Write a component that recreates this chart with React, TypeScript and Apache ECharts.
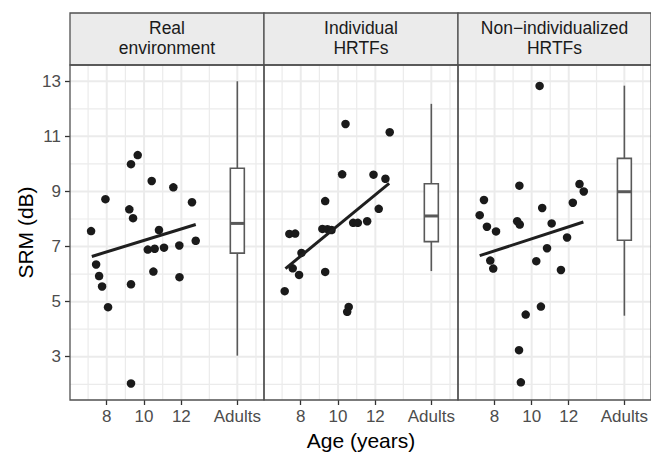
import React, { useEffect, useRef } from "react";
import * as echarts from "echarts";

// ---- data ----
const panelTitles = ["Real\nenvironment", "Individual\nHRTFs", "Non\u2212individualized\nHRTFs"];

const realX = [9.66, 9.30, 10.41, 11.57, 7.93, 12.57, 9.21, 9.41, 7.16, 10.80, 12.77, 10.20, 10.57, 11.07, 11.89, 7.43, 7.59, 10.50, 7.75, 9.30, 11.90, 8.07, 9.30];
const realY = [10.32, 9.99, 9.38, 9.15, 8.72, 8.61, 8.35, 8.03, 7.56, 7.60, 7.21, 6.89, 6.92, 6.96, 7.04, 6.35, 5.93, 6.09, 5.55, 5.63, 5.89, 4.80, 2.03];

const indivX = [10.40, 12.77, 10.22, 11.90, 12.54, 9.31, 12.18, 10.81, 11.06, 11.56, 9.16, 9.43, 9.65, 7.39, 7.70, 8.04, 7.57, 7.91, 9.31, 7.14, 10.57, 10.49];
const indivY = [11.45, 11.15, 9.62, 9.61, 9.46, 8.65, 8.37, 7.86, 7.86, 7.92, 7.64, 7.63, 7.60, 7.46, 7.47, 6.77, 6.21, 5.97, 6.08, 5.38, 4.81, 4.63];

const nonX = [10.43, 9.34, 12.58, 12.81, 7.43, 12.22, 10.57, 7.20, 9.22, 9.36, 11.08, 7.59, 8.08, 11.91, 10.83, 7.77, 7.93, 10.25, 11.58, 10.50, 9.68, 9.32, 9.42];
const nonY = [12.83, 9.21, 9.27, 9.00, 8.69, 8.59, 8.40, 8.14, 7.92, 7.80, 7.84, 7.72, 7.55, 7.33, 6.94, 6.49, 6.20, 6.47, 6.15, 4.82, 4.53, 3.24, 2.07];

const realFitX = [7.20, 12.77];
const realFitY = [6.64, 7.80];
const indivFitX = [7.18, 12.74];
const indivFitY = [6.20, 9.29];
const nonFitX = [7.20, 12.79];
const nonFitY = [6.67, 7.89];

// adults boxplot stats: [lower whisker, Q1, median, Q3, upper whisker]
const adultsPos = 15;
const realBox = [3.04, 6.76, 7.84, 9.84, 13.0];
const indivBox = [6.11, 7.18, 8.11, 9.28, 12.18];
const nonBox = [4.49, 7.23, 8.99, 10.2, 12.84];

const xTicks = [8, 10, 12, 15];
const xMinor = [7, 9, 11, 13.5, 16];
const yTicks = [3, 5, 7, 9, 11, 13];
const yMinor = [2, 4, 6, 8, 10, 12];

// ---- layout ----
const X_MIN = 6.03;
const X_MAX = 16.43;
const Y_MIN = 1.43;
const Y_MAX = 13.59;
const PANEL_TOP = 65;
const PANEL_H = 335;
const STRIP_TOP = 13;
const panelLefts = [70, 264, 458];
const panelWidths = [194, 194, 193];
const FONT = '"Liberation Sans", Arial, Helvetica, sans-serif';
const BORDER = "#505050";

const pointsSets = [
  [realX, realY],
  [indivX, indivY],
  [nonX, nonY],
];
const fitSets = [
  [realFitX, realFitY],
  [indivFitX, indivFitY],
  [nonFitX, nonFitY],
];
const boxSets = [realBox, indivBox, nonBox];

export default function App() {
  const ref = useRef<HTMLDivElement>(null);
  useEffect(() => {
    if (!ref.current) return;
    const chart = echarts.init(ref.current, null, { renderer: "svg" });

    const grids = panelLefts.map((l, i) => ({
      left: l,
      top: PANEL_TOP,
      width: panelWidths[i],
      height: PANEL_H,
      show: false,
    }));

    const xAxes = panelLefts.map((_, i) => ({
      type: "value",
      gridIndex: i,
      min: X_MIN,
      max: X_MAX,
      axisLine: { show: false },
      splitLine: { show: false },
      axisTick: {
        show: true,
        customValues: xTicks,
        length: 5,
        lineStyle: { color: "#333333", width: 1.3 },
      },
      axisLabel: {
        customValues: xTicks,
        formatter: (v: number) => (v === adultsPos ? "Adults" : String(v)),
        fontFamily: FONT,
        fontSize: 17,
        color: "#4d4d4d",
        margin: 8,
      },
    }));

    const yAxes = panelLefts.map((_, i) => ({
      type: "value",
      gridIndex: i,
      min: Y_MIN,
      max: Y_MAX,
      axisLine: { show: false },
      splitLine: { show: false },
      axisTick: {
        show: i === 0,
        customValues: yTicks,
        length: 5,
        lineStyle: { color: "#333333", width: 1.3 },
      },
      axisLabel: {
        show: i === 0,
        customValues: yTicks,
        fontFamily: FONT,
        fontSize: 17,
        color: "#4d4d4d",
        margin: 9,
      },
    }));

    const gridLineData: number[][] = [];
    xTicks.forEach((v) => gridLineData.push([0, v, 1]));
    xMinor.forEach((v) => gridLineData.push([0, v, 0]));
    yTicks.forEach((v) => gridLineData.push([1, v, 1]));
    yMinor.forEach((v) => gridLineData.push([1, v, 0]));

    const series: any[] = [];
    panelLefts.forEach((_, i) => {
      series.push({
        type: "custom",
        xAxisIndex: i,
        yAxisIndex: i,
        z: 1,
        silent: true,
        data: gridLineData,
        renderItem: (params: any, api: any) => {
          const cs = params.coordSys;
          const kind = api.value(0);
          const v = api.value(1);
          const major = api.value(2) === 1;
          const style = { stroke: "#ebebeb", lineWidth: major ? 2 : 1.2 };
          if (kind === 0) {
            const x = api.coord([v, Y_MIN])[0];
            return { type: "line", shape: { x1: x, y1: cs.y, x2: x, y2: cs.y + cs.height }, style };
          }
          const y = api.coord([X_MIN, v])[1];
          return { type: "line", shape: { x1: cs.x, y1: y, x2: cs.x + cs.width, y2: y }, style };
        },
      });

      const [px, py] = pointsSets[i];
      series.push({
        type: "scatter",
        xAxisIndex: i,
        yAxisIndex: i,
        z: 3,
        symbolSize: 8.5,
        itemStyle: { color: "#1a1a1a", opacity: 1 },
        data: px.map((x, k) => [x, py[k]]),
      });

      const [fx, fy] = fitSets[i];
      series.push({
        type: "line",
        xAxisIndex: i,
        yAxisIndex: i,
        z: 4,
        symbol: "none",
        lineStyle: { color: "#1f1f1f", width: 3 },
        data: fx.map((x, k) => [x, fy[k]]),
      });

      series.push({
        type: "custom",
        xAxisIndex: i,
        yAxisIndex: i,
        z: 3,
        encode: { x: 0, y: [1, 2, 3, 4, 5] },
        data: [[adultsPos, ...boxSets[i]]],
        renderItem: (params: any, api: any) => {
          const x = api.value(0);
          const lo = api.coord([x, api.value(1)]);
          const q1 = api.coord([x, api.value(2)]);
          const md = api.coord([x, api.value(3)]);
          const q3 = api.coord([x, api.value(4)]);
          const hi = api.coord([x, api.value(5)]);
          const hw = api.size([0.75, 0])[0] / 2;
          const col = "#595959";
          return {
            type: "group",
            children: [
              { type: "line", shape: { x1: lo[0], y1: lo[1], x2: q1[0], y2: q1[1] }, style: { stroke: col, lineWidth: 1.6 } },
              { type: "line", shape: { x1: q3[0], y1: q3[1], x2: hi[0], y2: hi[1] }, style: { stroke: col, lineWidth: 1.6 } },
              { type: "rect", shape: { x: q1[0] - hw, y: q3[1], width: hw * 2, height: q1[1] - q3[1] }, style: { fill: "#ffffff", stroke: col, lineWidth: 1.6 } },
              { type: "line", shape: { x1: md[0] - hw, y1: md[1], x2: md[0] + hw, y2: md[1] }, style: { stroke: col, lineWidth: 3 } },
            ],
          };
        },
      });
    });

    const graphics: any[] = [];
    panelLefts.forEach((l, i) => {
      const w = panelWidths[i];
      graphics.push({
        type: "rect",
        z: 100,
        silent: true,
        shape: { x: l, y: STRIP_TOP, width: w, height: PANEL_TOP - STRIP_TOP },
        style: { fill: "#ebebeb", stroke: BORDER, lineWidth: 1.3 },
      });
      graphics.push({
        type: "text",
        z: 101,
        silent: true,
        x: l + w / 2,
        y: 38,
        style: {
          text: panelTitles[i],
          align: "center",
          verticalAlign: "middle",
          fontFamily: FONT,
          fontSize: 17.5,
          lineHeight: 20,
          fill: "#1a1a1a",
        },
      });
      graphics.push({
        type: "rect",
        z: 100,
        silent: true,
        shape: { x: l, y: PANEL_TOP, width: w, height: PANEL_H },
        style: { fill: "transparent", stroke: BORDER, lineWidth: 1.3 },
      });
    });
    graphics.push({
      type: "text",
      z: 101,
      silent: true,
      x: 361,
      y: 440,
      style: {
        text: "Age (years)",
        align: "center",
        verticalAlign: "middle",
        fontFamily: FONT,
        fontSize: 21,
        fill: "#000000",
      },
    });
    graphics.push({
      type: "text",
      z: 101,
      silent: true,
      x: 25,
      y: 232.5,
      rotation: Math.PI / 2,
      style: {
        text: "SRM (dB)",
        align: "center",
        verticalAlign: "middle",
        fontFamily: FONT,
        fontSize: 21,
        fill: "#000000",
      },
    });

    chart.setOption({
      animation: false,
      backgroundColor: "#ffffff",
      grid: grids,
      xAxis: xAxes,
      yAxis: yAxes,
      series,
      graphic: graphics,
    });
    return () => chart.dispose();
  }, []);
  return (
    <div
      ref={ref}
      style={{ position: "fixed", left: 0, top: 0, width: 651, height: 453 }}
    />
  );
}
